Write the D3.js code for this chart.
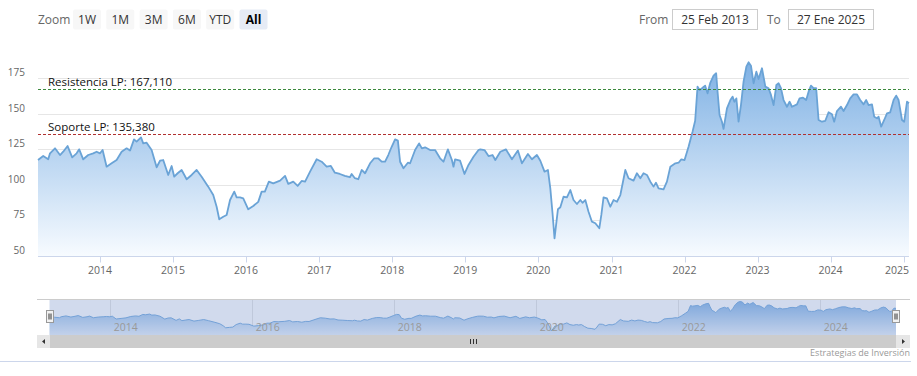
<!DOCTYPE html>
<html>
<head>
<meta charset="utf-8">
<script src="https://cdn.jsdelivr.net/npm/d3@7"></script>
<style>
  body { margin: 0; background: #fff; }
  svg { display: block; font-family: "Open Sans", sans-serif; }
</style>
</head>
<body>
<script>
// price series
const dates = [
  "2013-02-25","2013-03-23","2013-04-17","2013-04-26","2013-05-21","2013-06-15","2013-07-01","2013-07-23","2013-08-15","2013-09-06","2013-09-19","2013-10-09","2013-11-03","2013-11-28","2013-12-15",
  "2014-01-01","2014-01-14","2014-02-03","2014-02-28","2014-03-25","2014-04-19","2014-05-14","2014-05-31","2014-06-20","2014-07-03","2014-07-25","2014-08-05","2014-08-22","2014-09-16","2014-10-11","2014-10-28","2014-11-13","2014-12-08","2014-12-25",
  "2015-01-07","2015-01-24","2015-02-13","2015-03-10","2015-04-04","2015-04-29","2015-05-24","2015-06-26","2015-07-21","2015-08-07","2015-08-20","2015-09-09","2015-09-26","2015-10-13","2015-11-03","2015-11-15","2015-12-02","2015-12-18",
  "2016-01-12","2016-02-06","2016-03-02","2016-03-19","2016-04-04","2016-04-24","2016-05-16","2016-06-19","2016-07-14","2016-07-30","2016-08-24","2016-09-15","2016-10-05","2016-10-22","2016-11-16","2016-12-19",
  "2017-01-13","2017-02-07","2017-02-28","2017-03-20","2017-04-14","2017-05-09","2017-06-03","2017-06-12","2017-06-28","2017-07-15","2017-08-01","2017-08-18","2017-09-12","2017-10-03","2017-10-23","2017-11-09","2017-11-26","2017-12-12","2017-12-29",
  "2018-01-15","2018-01-29","2018-02-09","2018-02-26","2018-03-20","2018-03-31","2018-04-25","2018-05-15","2018-05-29","2018-06-14","2018-07-09","2018-08-03","2018-08-28","2018-09-14","2018-10-06","2018-10-26","2018-11-03","2018-11-11","2018-12-06","2018-12-28",
  "2019-01-17","2019-02-11","2019-03-08","2019-03-17","2019-04-07","2019-04-27","2019-05-17","2019-05-31","2019-06-25","2019-07-23","2019-08-22","2019-09-21","2019-10-11","2019-11-10","2019-11-30","2019-12-25",
  "2020-01-11","2020-02-01","2020-02-18","2020-03-01","2020-03-12","2020-03-22","2020-04-08","2020-04-20","2020-05-06","2020-05-23","2020-06-09","2020-06-25","2020-07-12","2020-07-29","2020-08-09","2020-08-23","2020-09-08","2020-09-25","2020-10-12","2020-11-01","2020-11-11","2020-11-22","2020-12-09","2020-12-26",
  "2021-01-11","2021-01-28","2021-02-14","2021-03-11","2021-03-27","2021-04-21","2021-05-08","2021-05-25","2021-06-10","2021-06-27","2021-07-14","2021-07-30","2021-08-11","2021-08-24","2021-09-18","2021-10-05","2021-10-22","2021-11-16","2021-12-02","2021-12-16",
  "2022-01-01","2022-01-21","2022-02-10","2022-02-23","2022-03-07","2022-03-17","2022-03-29","2022-04-14","2022-04-26","2022-05-09","2022-05-26","2022-06-08","2022-06-15","2022-06-25","2022-07-07","2022-07-15","2022-08-01","2022-08-18","2022-08-29","2022-09-07","2022-09-17","2022-09-28","2022-10-10","2022-10-23","2022-11-06","2022-11-17","2022-11-29","2022-12-12","2022-12-26",
  "2023-01-06","2023-01-23","2023-02-09","2023-02-25","2023-03-09","2023-03-22","2023-04-05","2023-04-16","2023-04-28","2023-05-11","2023-05-28","2023-06-10","2023-06-22","2023-07-17","2023-07-30","2023-08-16","2023-09-01","2023-09-13","2023-09-25","2023-10-08","2023-10-21","2023-11-02","2023-11-19","2023-12-05","2023-12-22",
  "2024-01-08","2024-01-19","2024-02-02","2024-02-22","2024-03-06","2024-03-23","2024-04-08","2024-04-25","2024-05-12","2024-05-28","2024-06-14","2024-06-27","2024-07-09","2024-07-26","2024-08-06","2024-08-20","2024-08-28","2024-09-10","2024-09-25","2024-10-09","2024-10-25","2024-11-11","2024-11-24","2024-12-06","2024-12-23",
  "2025-01-03","2025-01-17","2025-01-27"
];
const prices = [
  117.4,120.2,117.9,122.1,125.6,120.9,123.2,127.2,119.3,122.1,124.9,117.9,120.9,122.1,123.2,
  122.1,124.4,112.7,115.1,117.4,123.2,125.6,124.0,131.9,130.3,133.3,129.1,129.6,124.4,112.3,116.9,117.4,106.9,113.2,
  105.7,108.1,110.4,103.9,106.9,110.4,105.7,98.7,92.8,84.6,75.8,77.6,78.8,89.3,95.2,91.2,91.2,90.5,
  82.8,85.1,88.0,95.2,95.2,102.2,101.0,102.9,106.2,100.6,102.2,99.2,102.7,102.2,109.2,117.9,
  116.2,112.7,113.2,108.5,107.6,106.2,105.3,107.6,104.6,103.9,110.4,108.1,115.1,118.6,118.6,116.2,116.2,120.9,126.7,
  131.9,131.0,116.2,111.6,115.5,115.1,124.4,129.1,125.6,126.3,124.4,124.4,118.6,116.2,124.9,117.4,112.7,117.9,116.9,107.6,
  113.9,119.7,124.4,124.9,124.4,120.2,120.9,117.4,123.2,124.9,117.9,124.0,115.1,121.6,117.9,120.9,
  116.9,109.2,110.4,97.5,80.0,62.4,82.8,84.2,91.6,91.2,96.3,89.3,86.5,89.3,87.4,89.3,81.1,74.1,73.0,69.5,78.8,91.2,90.5,84.6,
  89.3,88.1,92.8,110.4,104.6,102.9,108.1,104.6,108.1,106.9,102.2,98.7,101.5,97.5,96.8,102.2,112.7,115.1,115.5,117.9,
  117.4,126.7,137.3,145.0,168.9,166.6,167.8,169.6,164.2,171.3,176.6,178.3,165.4,149.0,144.3,139.2,153.7,159.5,161.9,158.3,160.7,144.3,156.0,172.4,182.9,186.0,183.6,171.3,179.4,
  174.3,181.8,168.9,167.8,163.1,156.0,170.1,171.3,167.8,159.5,154.8,158.3,154.8,156.5,160.7,161.2,159.5,165.4,169.6,167.8,167.8,145.5,144.3,144.8,150.9,
  149.5,144.3,151.8,154.8,151.8,156.0,160.7,163.5,163.5,159.5,156.5,159.5,156.0,156.5,147.8,146.7,147.8,140.8,145.5,150.2,150.9,159.5,162.6,159.5,145.5,
  144.3,158.3,157.2
];

const yTicks = [50, 75, 100, 125, 150, 175];
const resistencia = 167.11;
const soporte = 135.38;
const rangeButtons = ["1W", "1M", "3M", "6M", "YTD", "All"];
const fromText = "25 Feb 2013";
const toText = "27 Ene 2025";
const credits = "Estrategias de Inversión";

const W = 917, H = 376;
const parse = d3.timeParse("%Y-%m-%d");
const data = dates.map((d, i) => ({ date: parse(d), value: prices[i] }));
const esNum = d3.formatLocale({ decimal: ",", thousands: ".", grouping: [3], currency: ["", "€"] }).format(".3f");

const svg = d3.select("body").append("svg").attr("width", W).attr("height", H);

const defs = svg.append("defs");
function gradient(id, y1, y2, top, bottom) {
  const g = defs.append("linearGradient").attr("id", id)
    .attr("gradientUnits", "userSpaceOnUse")
    .attr("x1", 0).attr("x2", 0).attr("y1", y1).attr("y2", y2);
  g.append("stop").attr("offset", 0).attr("stop-color", top);
  g.append("stop").attr("offset", 1).attr("stop-color", bottom);
}

// ---------- main plot
const x = d3.scaleTime().domain([parse("2013-02-25"), parse("2025-01-27")]).range([38, 909]);
const y = d3.scaleLinear().domain([50, 186]).range([256, 62.3]);

gradient("mainFill", y(186), y(50), "#7fb1e4", "#f7fbff");

svg.append("g")
  .selectAll("line").data(yTicks.slice(1)).join("line")
  .attr("x1", 38).attr("x2", 909)
  .attr("y1", d => Math.round(y(d)) + 0.5).attr("y2", d => Math.round(y(d)) + 0.5)
  .attr("stroke", "#e6e6e6");

svg.append("g")
  .selectAll("text").data(yTicks).join("text")
  .attr("x", 25).attr("y", d => y(d) - 2)
  .attr("text-anchor", "end")
  .attr("font-size", 10).attr("fill", "#666")
  .text(d => d);

const area = d3.area().x(d => x(d.date)).y0(y(50)).y1(d => y(d.value));
const line = d3.line().x(d => x(d.date)).y(d => y(d.value));

svg.append("path").datum(data).attr("d", area).attr("fill", "url(#mainFill)");
svg.append("path").datum(data).attr("d", line)
  .attr("fill", "none").attr("stroke", "#6aa3d6").attr("stroke-width", 1.8)
  .attr("stroke-linejoin", "round");

// x axis
const xAxisG = svg.append("g").attr("transform", "translate(0,256.5)");
xAxisG.append("line").attr("x1", 38).attr("x2", 909).attr("stroke", "#ccd6eb");
const yearTicks = d3.timeYear.range(parse("2014-01-01"), parse("2025-12-31"));
xAxisG.selectAll("line.tick").data(yearTicks).join("line")
  .attr("class", "tick")
  .attr("x1", d => Math.round(x(d)) + 0.5).attr("x2", d => Math.round(x(d)) + 0.5)
  .attr("y1", 0).attr("y2", 6).attr("stroke", "#ccd6eb");
xAxisG.selectAll("text").data(yearTicks).join("text")
  .attr("x", d => Math.min(x(d), 897))
  .attr("y", 17)
  .attr("text-anchor", "middle")
  .attr("font-size", 10.5).attr("fill", "#666")
  .text(d3.timeFormat("%Y"));

// plot lines for support / resistance
const plotLines = [
  { v: resistencia, name: "Resistencia LP", color: "#3d8a3d" },
  { v: soporte, name: "Soporte LP", color: "#b03030" }
];
const pl = svg.append("g").selectAll("g").data(plotLines).join("g");
pl.append("line")
  .attr("x1", 38).attr("x2", 909)
  .attr("y1", d => Math.round(y(d.v)) + 0.5).attr("y2", d => Math.round(y(d.v)) + 0.5)
  .attr("stroke", d => d.color).attr("stroke-width", 1)
  .attr("stroke-dasharray", "3,2");
pl.append("text")
  .attr("x", 48).attr("y", d => y(d.v) - 3.5)
  .attr("font-size", 11.5).attr("fill", "#111")
  .text(d => `${d.name}: ${esNum(d.v)}`);

// ---------- range selector + inputs
const rs = svg.append("g");
rs.append("text").attr("x", 38).attr("y", 23.5).attr("font-size", 12).attr("fill", "#666").text("Zoom");
const btn = rs.selectAll("g.btn").data(rangeButtons).join("g")
  .attr("class", "btn")
  .attr("transform", (d, i) => `translate(${73 + i * 33.3},9.5)`);
btn.append("rect").attr("width", 28).attr("height", 20).attr("rx", 2)
  .attr("fill", d => d === "All" ? "#e6ebf5" : "#f7f7f7");
btn.append("text").attr("x", 14).attr("y", 14.5).attr("text-anchor", "middle")
  .attr("font-size", 12)
  .attr("font-weight", d => d === "All" ? "bold" : "normal")
  .attr("fill", d => d === "All" ? "#000" : "#333")
  .text(d => d);

const inputs = [
  { label: "From", lx: 639, bx: 672.5, text: fromText },
  { label: "To", lx: 767, bx: 788.5, text: toText }
];
const inp = rs.selectAll("g.inp").data(inputs).join("g").attr("class", "inp");
inp.append("text").attr("x", d => d.lx).attr("y", 23.5).attr("font-size", 12).attr("fill", "#666").text(d => d.label);
inp.append("rect").attr("x", d => d.bx).attr("y", 9.5).attr("width", 85).attr("height", 20)
  .attr("fill", "#fff").attr("stroke", "#cccccc");
inp.append("text").attr("x", d => d.bx + 42.5).attr("y", 23.5).attr("text-anchor", "middle")
  .attr("font-size", 12).attr("fill", "#333").text(d => d.text);

// ---------- navigator
const nx = d3.scaleTime().domain(x.domain()).range([49.5, 896]);
const ny = d3.scaleLinear().domain(d3.extent(prices)).range([331, 301.5]);
const navTop = 299.5, navBottom = 335;

gradient("navFill", 301, 335, "#86b5e6", "#eaf2fb");

const nav = svg.append("g");
const navTicks = d3.timeYear.every(2).range(parse("2014-01-01"), parse("2025-06-01"));
nav.selectAll("line.grid").data(navTicks).join("line")
  .attr("class", "grid")
  .attr("x1", d => Math.round(nx(d)) + 0.5).attr("x2", d => Math.round(nx(d)) + 0.5)
  .attr("y1", navTop).attr("y2", navBottom).attr("stroke", "#e6e6e6");

const navArea = d3.area().x(d => nx(d.date)).y0(navBottom).y1(d => ny(d.value));
const navLine = d3.line().x(d => nx(d.date)).y(d => ny(d.value));
nav.append("path").datum(data).attr("d", navArea).attr("fill", "url(#navFill)");
nav.append("path").datum(data).attr("d", navLine).attr("fill", "none")
  .attr("stroke", "#7aaee0").attr("stroke-width", 1);

// selected window mask
nav.append("rect").attr("x", nx.range()[0]).attr("y", navTop)
  .attr("width", nx.range()[1] - nx.range()[0]).attr("height", navBottom - navTop)
  .attr("fill", "rgba(102,133,194,0.3)");

nav.selectAll("text").data(navTicks).join("text")
  .attr("x", d => nx(d) + 4).attr("y", 330.5)
  .attr("font-size", 10.5).attr("fill", "#999")
  .text(d3.timeFormat("%Y"));

nav.append("line").attr("x1", 37).attr("x2", 910).attr("y1", navTop).attr("y2", navTop).attr("stroke", "#cccccc");

// handles
const handles = nav.selectAll("g.handle").data(nx.range()).join("g")
  .attr("class", "handle")
  .attr("transform", d => `translate(${Math.round(d) - 3.5},310.5)`);
handles.append("rect").attr("width", 7).attr("height", 12).attr("fill", "#f2f2f2").attr("stroke", "#999");
handles.append("path").attr("d", "M2.5,3V9M4.5,3V9").attr("stroke", "#333").attr("stroke-width", 1);

// scrollbar
const sb = svg.append("g").attr("transform", "translate(0,335)");
sb.append("rect").attr("x", 37).attr("y", 0).attr("width", 873).attr("height", 13).attr("fill", "#f2f2f2");
sb.append("rect").attr("x", nx.range()[0]).attr("y", 0).attr("width", nx.range()[1] - nx.range()[0]).attr("height", 13)
  .attr("fill", "#cccccc");
sb.append("rect").attr("x", 37).attr("y", 0).attr("width", 13).attr("height", 13).attr("fill", "#e6e6e6");
sb.append("rect").attr("x", 896).attr("y", 0).attr("width", 14).attr("height", 13).attr("fill", "#e6e6e6");
sb.append("path").attr("d", "M45,4L42,6.5L45,9Z").attr("fill", "#333");
sb.append("path").attr("d", "M902,4L905,6.5L902,9Z").attr("fill", "#333");
const mid = Math.round((nx.range()[0] + nx.range()[1]) / 2);
sb.append("path").attr("d", `M${mid - 2.5},4V9M${mid + 0.5},4V9M${mid + 3.5},4V9`).attr("stroke", "#333").attr("stroke-width", 1);

// bottom rule + credits
svg.append("line").attr("x1", 0).attr("x2", 911).attr("y1", 361.5).attr("y2", 361.5).attr("stroke", "#ccd6eb");
svg.append("text").attr("x", 910).attr("y", 356).attr("text-anchor", "end")
  .attr("font-size", 9).attr("fill", "#999").text(credits);
</script>
</body>
</html>
